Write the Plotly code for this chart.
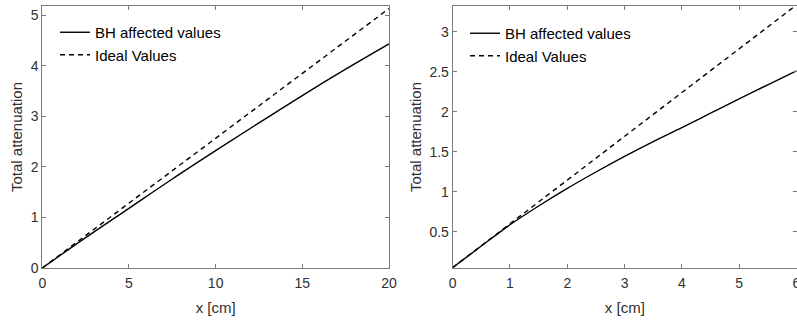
import plotly.graph_objects as go

# Left panel data (x in cm)
x_left = [0, 2.5, 5, 7.5, 10, 12.5, 15, 17.5, 20]
bh_left = [0, 0.60, 1.18, 1.76, 2.32, 2.87, 3.41, 3.93, 4.43]
ideal_left = [0, 0.64, 1.28, 1.92, 2.565, 3.21, 3.85, 4.49, 5.13]

# Right panel data (x in cm)
x_right = [0, 0.5, 1, 1.5, 2, 2.5, 3, 3.5, 4, 4.5, 5, 5.5, 6]
bh_right = [0.05, 0.32, 0.585, 0.82, 1.04, 1.245, 1.44, 1.625, 1.80, 1.98, 2.16, 2.335, 2.51]
ideal_right = [0.05, 0.324, 0.597, 0.871, 1.144, 1.418, 1.692, 1.965, 2.238, 2.512, 2.785, 3.059, 3.332]

left_yticks = [0, 1, 2, 3, 4, 5]
left_xticks = [0, 5, 10, 15, 20]
right_yticks = [0.5, 1, 1.5, 2, 2.5, 3]
right_ytick_labels = ["0.5", "1", "1.5", "2", "2.5", "3"]
right_xticks = [0, 1, 2, 3, 4, 5, 6]

names = ["BH affected values", "Ideal Values"]

W, H = 797, 322
FONT = "Liberation Sans, Arial, sans-serif"
AX = "#7a7a7a"
TXT = "#303030"

fig = go.Figure()
fig.add_trace(go.Scatter(x=x_left, y=bh_left, mode="lines", name=names[0],
                         line=dict(color="black", width=1.4, shape="spline"), xaxis="x", yaxis="y", legend="legend"))
fig.add_trace(go.Scatter(x=x_left, y=ideal_left, mode="lines", name=names[1],
                         line=dict(color="black", width=1.4, dash="5px,4px"), xaxis="x", yaxis="y", legend="legend"))
fig.add_trace(go.Scatter(x=x_right, y=bh_right, mode="lines", name=names[0],
                         line=dict(color="black", width=1.4, shape="spline"), xaxis="x2", yaxis="y2", legend="legend2"))
fig.add_trace(go.Scatter(x=x_right, y=ideal_right, mode="lines", name=names[1],
                         line=dict(color="black", width=1.4, dash="5px,4px"), xaxis="x2", yaxis="y2", legend="legend2"))

ydom = [(322 - 268) / H, (322 - 6) / H]

def axstyle(**kw):
    d = dict(showline=True, linecolor=AX, linewidth=1, mirror="ticks", ticks="inside",
             ticklen=4, tickcolor=AX, showgrid=False, zeroline=False, automargin=False,
             tickfont=dict(family=FONT, size=14, color=TXT))
    d.update(kw)
    return d

fig.update_layout(
    width=W, height=H,
    margin=dict(l=0, r=0, t=0, b=0, autoexpand=False),
    paper_bgcolor="white", plot_bgcolor="white",
    font=dict(family=FONT, size=14, color=TXT),
    xaxis=axstyle(domain=[42.3 / W, 389 / W], range=[0, 20], tickvals=left_xticks, anchor="y",
                  ticklabelstandoff=2,
                  title=dict(text="x [cm]", standoff=12, font=dict(size=15, color=TXT))),
    yaxis=axstyle(domain=ydom, range=[0, 5.18], tickvals=left_yticks, anchor="x",
                  title=dict(text="Total attenuation", standoff=4, font=dict(size=15, color=TXT))),
    xaxis2=axstyle(domain=[452.7 / W, 1.0], range=[0, 6.01], tickvals=right_xticks, anchor="y2",
                   ticklabelstandoff=2, ticklabeloverflow="allow",
                   title=dict(text="x [cm]", standoff=12, font=dict(size=15, color=TXT))),
    yaxis2=axstyle(domain=ydom, range=[0.045, 3.32], tickvals=right_yticks, ticktext=right_ytick_labels,
                   anchor="x2",
                   title=dict(text="Total attenuation", standoff=4, font=dict(size=15, color=TXT))),
    legend=dict(x=55 / W, y=(322 - 16) / H, xanchor="left", yanchor="top",
                bgcolor="rgba(0,0,0,0)", font=dict(family=FONT, size=15, color="black"),
                itemwidth=30, tracegroupgap=0),
    legend2=dict(x=465 / W, y=(322 - 17) / H, xanchor="left", yanchor="top",
                 bgcolor="rgba(0,0,0,0)", font=dict(family=FONT, size=15, color="black"),
                 itemwidth=30, tracegroupgap=0),
    showlegend=True,
)

fig.write_html("out.html", config={"displayModeBar": False},
               post_script="document.body.style.margin='0';document.body.style.overflow='hidden';")
